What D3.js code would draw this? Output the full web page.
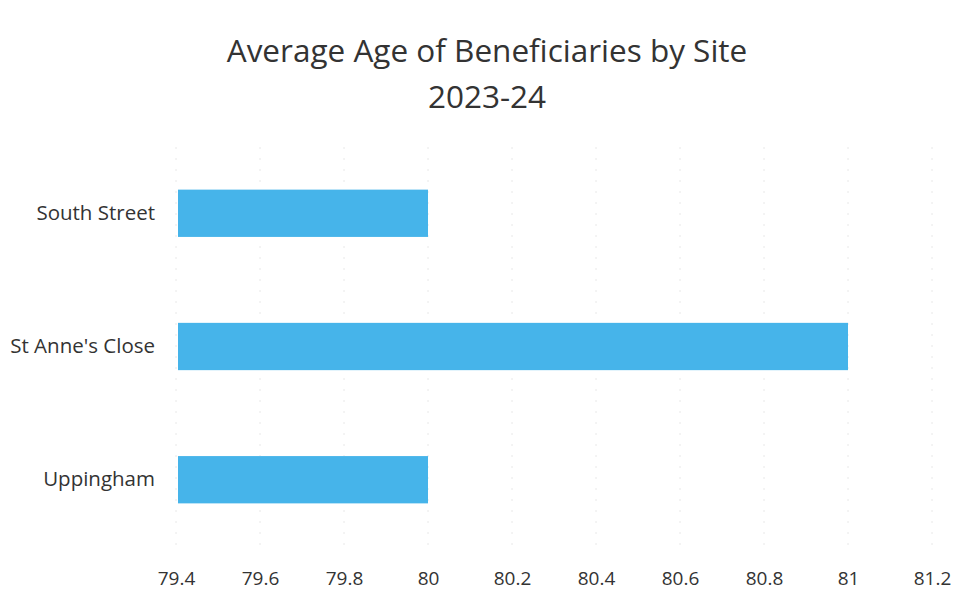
<!DOCTYPE html>
<html>
<head>
<meta charset="utf-8">
<script src="https://cdn.jsdelivr.net/npm/d3@7"></script>
<style>
  body { margin: 0; background: #fff; }
  text { font-family: "Open Sans", Lato, sans-serif; fill: #333; }
</style>
</head>
<body>
<script>
const sites = ["South Street", "St Anne's Close", "Uppingham"];
const avgAge = [80, 81, 80];
const tickValues = [79.4, 79.6, 79.8, 80, 80.2, 80.4, 80.6, 80.8, 81, 81.2];

const width = 973, height = 603;
const margin = { top: 147, right: 41, bottom: 57, left: 176 };

const svg = d3.select("body").append("svg")
    .attr("width", width)
    .attr("height", height);

// title
svg.append("text")
    .attr("x", 487)
    .attr("y", 62)
    .attr("text-anchor", "middle")
    .style("font-size", "31.5px")
    .text("Average Age of Beneficiaries by Site");
svg.append("text")
    .attr("x", 487)
    .attr("y", 108)
    .attr("text-anchor", "middle")
    .style("font-size", "31.5px")
    .text("2023-24");

const x = d3.scaleLinear()
    .domain([79.4, 81.2])
    .range([margin.left, width - margin.right]);

const y = d3.scaleBand()
    .domain(sites)
    .range([margin.top, height - margin.bottom])
    .paddingInner(0.645)
    .paddingOuter(0.32);

// faint gridlines
svg.append("g")
    .selectAll("line")
    .data(tickValues)
    .join("line")
    .attr("x1", d => x(d))
    .attr("x2", d => x(d))
    .attr("y1", margin.top)
    .attr("y2", height - margin.bottom)
    .attr("stroke", "#e8e8e8")
    .attr("stroke-width", 1)
    .attr("stroke-dasharray", "2,9");

// bars
svg.append("g")
    .selectAll("rect")
    .data(sites)
    .join("rect")
    .attr("x", x(79.4) + 2)
    .attr("y", d => y(d))
    .attr("width", (d, i) => x(avgAge[i]) - x(79.4) - 2)
    .attr("height", y.bandwidth())
    .attr("fill", "#46b4ea");

// x axis labels
const xAxis = d3.axisBottom(x)
    .tickValues(tickValues)
    .tickSize(0)
    .tickPadding(0)
    .tickFormat(d3.format("~g"));
const gx = svg.append("g")
    .attr("transform", `translate(0,${height - margin.bottom})`)
    .call(xAxis);
gx.select(".domain").remove();
gx.selectAll("text")
    .attr("y", 26)
    .attr("dy", "0.71em")
    .style("font-size", "19px")
    .style("font-family", "'Open Sans', Lato, sans-serif")
    .attr("fill", "#333");

// y axis labels
const yAxis = d3.axisLeft(y).tickSize(0).tickPadding(21);
const gy = svg.append("g")
    .attr("transform", `translate(${margin.left},0)`)
    .call(yAxis);
gy.select(".domain").remove();
gy.selectAll("text")
    .style("font-size", "20.5px")
    .style("font-family", "'Open Sans', Lato, sans-serif")
    .attr("fill", "#333");
</script>
</body>
</html>
